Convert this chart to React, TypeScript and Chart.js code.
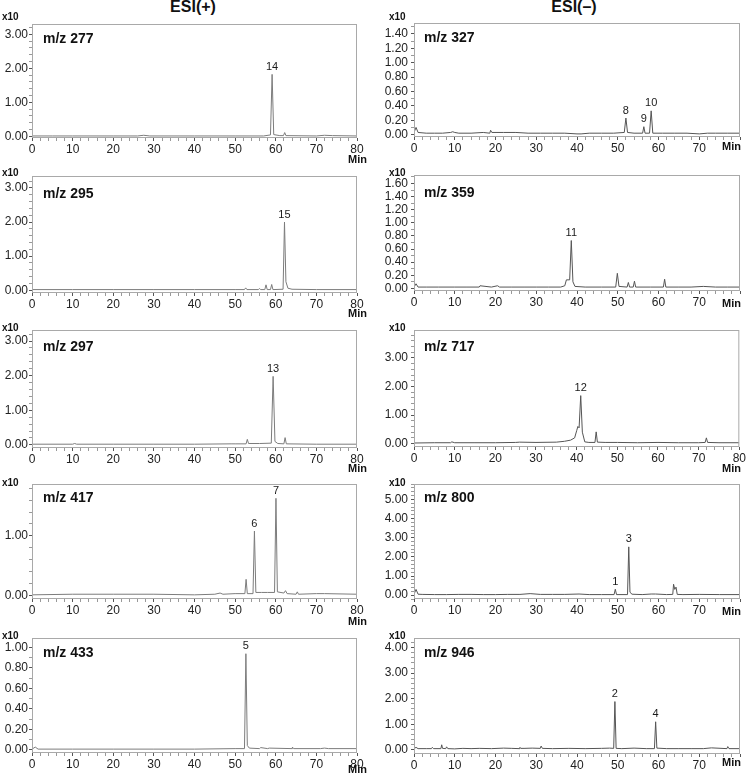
import React, { useEffect, useRef } from "react";
import { Chart, registerables } from "chart.js";
Chart.register(...registerables);

const FONT = "'Liberation Sans', Arial, Helvetica, sans-serif";

// ---------- DATA (retention time in min, intensity in x10 units) ----------
// ESI(+)
const mz277Time = [0, 5, 10, 20, 26, 27.5, 29, 40, 50, 57, 58.7, 59.1, 59.5, 61, 61.9, 62.2, 62.5, 70, 72, 74, 80];
const mz277Int = [0.01, 0.01, 0.01, 0.01, 0.01, 0.03, 0.01, 0.01, 0.01, 0.01, 0.04, 1.82, 0.05, 0.02, 0.02, 0.11, 0.02, 0.01, 0.03, 0.02, 0.01];
const mz277PeakIds = ["14"];
const mz277PeakTimes = [59.1];

const mz295Time = [0, 10, 20, 30, 40, 50, 52.3, 52.6, 52.9, 55.7, 56, 56.3, 57.3, 57.6, 57.9, 58.7, 59, 59.3, 61.8, 62.15, 62.5, 63, 64, 70, 80];
const mz295Int = [0.02, 0.02, 0.02, 0.02, 0.02, 0.02, 0.02, 0.07, 0.02, 0.02, 0.05, 0.02, 0.02, 0.16, 0.02, 0.02, 0.17, 0.02, 0.03, 2.0, 0.25, 0.06, 0.03, 0.02, 0.02];
const mz295PeakIds = ["15"];
const mz295PeakTimes = [62.15];

const mz297Time = [0, 10, 10.5, 11, 20, 30, 40, 49, 50, 52.7, 53, 53.3, 56, 58.9, 59.35, 59.8, 60.5, 62, 62.3, 62.6, 70, 80];
const mz297Int = [0.02, 0.02, 0.04, 0.02, 0.02, 0.02, 0.02, 0.03, 0.03, 0.03, 0.16, 0.04, 0.04, 0.05, 1.98, 0.1, 0.04, 0.03, 0.21, 0.03, 0.02, 0.02];
const mz297PeakIds = ["13"];
const mz297PeakTimes = [59.35];

const mz417Time = [0, 10, 20, 30, 40, 45, 46.3, 47, 50, 52.4, 52.7, 53, 54.4, 54.75, 55.1, 56.5, 58, 59.7, 60.05, 60.4, 62, 62.4, 62.8, 65, 65.3, 65.6, 70, 72, 80];
const mz417Int = [0.01, 0.02, 0.02, 0.02, 0.01, 0.02, 0.04, 0.02, 0.03, 0.03, 0.27, 0.03, 0.03, 1.08, 0.05, 0.05, 0.05, 0.05, 1.63, 0.06, 0.04, 0.08, 0.03, 0.02, 0.06, 0.02, 0.03, 0.03, 0.02];
const mz417PeakIds = ["6", "7"];
const mz417PeakTimes = [54.75, 60.05];

const mz433Time = [0, 0.8, 1.5, 10, 20, 30, 40, 50, 52.3, 52.65, 53.0, 53.5, 56, 56.3, 58, 58.4, 64, 64.1, 64.4, 71, 72, 73, 80];
const mz433Int = [0.005, 0.025, 0.005, 0.005, 0.005, 0.005, 0.005, 0.01, 0.01, 0.94, 0.04, 0.015, 0.01, 0.02, 0.01, 0.015, 0.01, 0.025, 0.01, 0.01, 0.015, 0.01, 0.01];
const mz433PeakIds = ["5"];
const mz433PeakTimes = [52.65];

// ESI(-)
const mz327Time = [0, 0.5, 1, 3, 5, 7, 9, 9.5, 10, 11, 14, 17, 18.6, 18.8, 19.1, 22, 25, 28, 31, 34, 37, 40, 41, 43, 46, 49, 51.6, 52, 52.4, 54, 56.1, 56.4, 56.7, 57.8, 58.2, 58.6, 61, 64, 67, 70, 72, 74, 77, 80];
const mz327Int = [0.03, 0.1, 0.03, 0.02, 0.02, 0.02, 0.03, 0.04, 0.03, 0.02, 0.02, 0.03, 0.02, 0.06, 0.03, 0.03, 0.03, 0.02, 0.02, 0.02, 0.02, 0.01, 0.01, 0.02, 0.02, 0.02, 0.03, 0.23, 0.03, 0.02, 0.02, 0.11, 0.02, 0.02, 0.33, 0.02, 0.02, 0.02, 0.02, 0.01, 0.02, 0.02, 0.02, 0.02];
const mz327PeakIds = ["8", "9", "10"];
const mz327PeakTimes = [52, 56.4, 58.2];

const mz359Time = [0, 0.5, 1, 3, 6, 10, 13, 16, 16.2, 19, 20.5, 21, 24, 27, 30, 33, 36, 37, 37.4, 38.2, 38.6, 39.0, 39.5, 42, 46, 49.5, 49.9, 50.3, 52.3, 52.6, 52.9, 53.8, 54.1, 54.4, 58, 61.2, 61.5, 61.8, 65, 68, 71, 74, 77, 80];
const mz359Int = [0.02, 0.07, 0.02, 0.02, 0.02, 0.02, 0.02, 0.02, 0.04, 0.02, 0.04, 0.02, 0.02, 0.02, 0.02, 0.02, 0.02, 0.04, 0.13, 0.13, 0.73, 0.1, 0.03, 0.02, 0.02, 0.02, 0.23, 0.03, 0.02, 0.09, 0.02, 0.02, 0.11, 0.02, 0.02, 0.02, 0.14, 0.02, 0.02, 0.02, 0.03, 0.02, 0.02, 0.02];
const mz359PeakIds = ["11"];
const mz359PeakTimes = [38.6];

const mz717Time = [0, 5, 9, 9.3, 10, 15, 20, 25, 26, 30, 35, 37, 38.5, 39.5, 40, 40.3, 40.6, 41.0, 41.4, 42.0, 43, 44.5, 44.8, 45.1, 47, 50, 55, 60, 65, 70, 71.6, 71.9, 72.2, 75, 80];
const mz717Int = [0.02, 0.03, 0.03, 0.06, 0.03, 0.03, 0.03, 0.04, 0.05, 0.04, 0.05, 0.08, 0.12, 0.2, 0.45, 0.6, 0.55, 1.68, 0.4, 0.06, 0.04, 0.04, 0.41, 0.05, 0.04, 0.04, 0.03, 0.04, 0.03, 0.03, 0.04, 0.2, 0.04, 0.03, 0.03];
const mz717PeakIds = ["12"];
const mz717PeakTimes = [41.0];

const mz800Time = [0, 0.5, 1, 2, 5, 8, 11, 14, 17, 20, 23, 26, 28.5, 31, 34, 37, 40.5, 43, 46, 49.1, 49.4, 49.7, 52.4, 52.7, 53.0, 53.5, 56, 58.2, 59.3, 62, 63.5, 63.7, 64.0, 64.3, 64.6, 66, 70, 75, 80];
const mz800Int = [0.05, 0.3, 0.05, 0.04, 0.03, 0.03, 0.04, 0.04, 0.03, 0.03, 0.04, 0.04, 0.08, 0.04, 0.04, 0.04, 0.06, 0.03, 0.03, 0.03, 0.31, 0.03, 0.03, 2.52, 0.15, 0.05, 0.03, 0.06, 0.06, 0.03, 0.04, 0.57, 0.3, 0.42, 0.04, 0.03, 0.04, 0.03, 0.03];
const mz800PeakIds = ["1", "3"];
const mz800PeakTimes = [49.4, 52.7];

const mz946Time = [0, 0.5, 1, 3, 4.3, 4.5, 4.8, 6.6, 6.8, 7, 7.8, 8, 8.3, 10, 12, 14, 16, 19, 22, 24, 25.8, 26, 26.2, 27, 29, 31.0, 31.2, 31.5, 34, 38, 42, 46, 48, 49.0, 49.3, 49.6, 51, 54, 57, 59.0, 59.3, 59.6, 62, 65, 68, 71, 73, 76.8, 77, 77.3, 80];
const mz946Int = [0.05, 0.1, 0.05, 0.05, 0.05, 0.1, 0.05, 0.05, 0.2, 0.06, 0.05, 0.12, 0.05, 0.04, 0.06, 0.05, 0.06, 0.05, 0.07, 0.06, 0.05, 0.1, 0.06, 0.06, 0.07, 0.06, 0.15, 0.06, 0.05, 0.06, 0.05, 0.06, 0.07, 0.06, 1.89, 0.06, 0.05, 0.07, 0.05, 0.05, 1.1, 0.07, 0.05, 0.05, 0.05, 0.05, 0.08, 0.05, 0.13, 0.05, 0.05];
const mz946PeakIds = ["2", "4"];
const mz946PeakTimes = [49.3, 59.3];

const xTickLabels = [0, 10, 20, 30, 40, 50, 60, 70, 80];

// ---------- LAYOUT ----------
type PanelDef = {
  name: string;
  t: number[];
  v: number[];
  peakIds: string[];
  peakTimes: number[];
  yMin: number;
  yMax: number;
  yStep: number;
  yLabelStep: number;
  col: 0 | 1;
  frameTop: number;
  frameBottom: number;
  mzY: number;
  x10Y: number;
  minY: number;
  show80: boolean;
};

const PANELS: PanelDef[] = [
  { name: "m/z 277", t: mz277Time, v: mz277Int, peakIds: mz277PeakIds, peakTimes: mz277PeakTimes, yMin: -0.05, yMax: 3.3, yStep: 0.2, yLabelStep: 1, col: 0, frameTop: 24, frameBottom: 138, mzY: 37.7, x10Y: 17, minY: 159, show80: true },
  { name: "m/z 295", t: mz295Time, v: mz295Int, peakIds: mz295PeakIds, peakTimes: mz295PeakTimes, yMin: -0.08, yMax: 3.35, yStep: 0.2, yLabelStep: 1, col: 0, frameTop: 176, frameBottom: 293, mzY: 192.7, x10Y: 173.3, minY: 313, show80: true },
  { name: "m/z 297", t: mz297Time, v: mz297Int, peakIds: mz297PeakIds, peakTimes: mz297PeakTimes, yMin: -0.09, yMax: 3.32, yStep: 0.2, yLabelStep: 1, col: 0, frameTop: 330, frameBottom: 448, mzY: 345.7, x10Y: 328.3, minY: 468, show80: true },
  { name: "m/z 417", t: mz417Time, v: mz417Int, peakIds: mz417PeakIds, peakTimes: mz417PeakTimes, yMin: -0.06, yMax: 1.87, yStep: 0.2, yLabelStep: 1, col: 0, frameTop: 484, frameBottom: 599, mzY: 497.3, x10Y: 483.3, minY: 621, show80: true },
  { name: "m/z 433", t: mz433Time, v: mz433Int, peakIds: mz433PeakIds, peakTimes: mz433PeakTimes, yMin: -0.033, yMax: 1.094, yStep: 0.1, yLabelStep: 0.2, col: 0, frameTop: 638, frameBottom: 753, mzY: 651.7, x10Y: 635.7, minY: 769, show80: true },
  { name: "m/z 327", t: mz327Time, v: mz327Int, peakIds: mz327PeakIds, peakTimes: mz327PeakTimes, yMin: -0.033, yMax: 1.55, yStep: 0.1, yLabelStep: 0.2, col: 1, frameTop: 23, frameBottom: 137, mzY: 37.3, x10Y: 17, minY: 146.7, show80: false },
  { name: "m/z 359", t: mz359Time, v: mz359Int, peakIds: mz359PeakIds, peakTimes: mz359PeakTimes, yMin: -0.04, yMax: 1.73, yStep: 0.1, yLabelStep: 0.2, col: 1, frameTop: 175, frameBottom: 291, mzY: 192.3, x10Y: 173.3, minY: 303.3, show80: false },
  { name: "m/z 717", t: mz717Time, v: mz717Int, peakIds: mz717PeakIds, peakTimes: mz717PeakTimes, yMin: -0.12, yMax: 3.98, yStep: 0.2, yLabelStep: 1, col: 1, frameTop: 330, frameBottom: 447, mzY: 345.7, x10Y: 328.3, minY: 468, show80: true },
  { name: "m/z 800", t: mz800Time, v: mz800Int, peakIds: mz800PeakIds, peakTimes: mz800PeakTimes, yMin: -0.2, yMax: 5.8, yStep: 0.2, yLabelStep: 1, col: 1, frameTop: 484, frameBottom: 599, mzY: 497.3, x10Y: 483.3, minY: 611, show80: false },
  { name: "m/z 946", t: mz946Time, v: mz946Int, peakIds: mz946PeakIds, peakTimes: mz946PeakTimes, yMin: -0.16, yMax: 4.375, yStep: 0.2, yLabelStep: 1, col: 1, frameTop: 638, frameBottom: 754, mzY: 651.7, x10Y: 635.7, minY: 762.7, show80: false },
];

const COLS = [
  { canvasLeft: 0, yW: 32, plotRight: 357, padRight: 8, mzX: 43, x10X: 2, minRight: 367, tickPad: 1, color: "#7c7c7c" },
  { canvasLeft: 378, yW: 36, plotRight: 740, padRight: 7, mzX: 424, x10X: 389, minRight: 741, tickPad: 3, color: "#555555" },
];

const PAD_TOP = 12;
const X_H = 16;
const PAD_BOTTOM = 2;

function isMultiple(v: number, step: number) {
  const r = v / step;
  return Math.abs(r - Math.round(r)) < 1e-6;
}

function ChromPanel({ p }: { p: PanelDef }) {
  const ref = useRef<HTMLCanvasElement>(null);
  const c = COLS[p.col];
  const width = c.plotRight + c.padRight - c.canvasLeft;
  const height = PAD_TOP + (p.frameBottom - p.frameTop) + X_H + PAD_BOTTOM;

  useEffect(() => {
    const canvas = ref.current;
    if (!canvas) return;
    const framePlugin = {
      id: "frameAndPeaks",
      afterDatasetsDraw(chart: any) {
        const { ctx, chartArea: a, scales } = chart;
        ctx.save();
        ctx.strokeStyle = "#a9a9a9";
        ctx.lineWidth = 1;
        ctx.strokeRect(a.left + 0.5, a.top + 0.5, a.right - a.left - 1, a.bottom - a.top - 1);
        ctx.fillStyle = "#1a1a1a";
        ctx.font = `11px ${FONT}`;
        ctx.textAlign = "center";
        ctx.textBaseline = "bottom";
        p.peakIds.forEach((id, i) => {
          const t = p.peakTimes[i];
          const idx = p.t.indexOf(t);
          const h = idx >= 0 ? p.v[idx] : 0;
          ctx.fillText(id, scales.x.getPixelForValue(t), scales.y.getPixelForValue(h) - 2);
        });
        ctx.restore();
      },
    };
    const chart = new Chart(canvas, {
      type: "line",
      data: {
        datasets: [
          {
            data: p.t.map((t, i) => ({ x: t, y: p.v[i] })),
            borderColor: c.color,
            borderWidth: 1,
            pointRadius: 0,
            tension: 0,
            fill: false,
          },
        ],
      },
      options: {
        animation: false,
        responsive: false,
        maintainAspectRatio: false,
        layout: { padding: { top: PAD_TOP, right: c.padRight, bottom: PAD_BOTTOM, left: 0 } },
        plugins: { legend: { display: false }, tooltip: { enabled: false } },
        scales: {
          x: {
            type: "linear",
            min: 0,
            max: 80,
            afterFit: (s: any) => {
              s.height = X_H;
            },
            border: { display: false },
            grid: {
              drawOnChartArea: false,
              tickLength: 3,
              tickColor: (ctx: any) => (ctx.tick && xTickLabels.includes(ctx.tick.value) ? "#555" : "#999"),
            },
            ticks: {
              stepSize: 2,
              autoSkip: false,
              includeBounds: false,
              maxRotation: 0,
              padding: 1,
              color: "#222",
              font: { family: FONT, size: 12 },
              callback: (v: any) => {
                const n = Number(v);
                if (!xTickLabels.includes(n)) return "";
                if (n === 80 && !p.show80) return "";
                return String(n);
              },
            },
          },
          y: {
            type: "linear",
            min: p.yMin,
            max: p.yMax,
            afterFit: (s: any) => {
              s.width = c.yW;
            },
            border: { display: false },
            grid: {
              drawOnChartArea: false,
              tickLength: 3,
              tickColor: (ctx: any) => (ctx.tick && isMultiple(ctx.tick.value, p.yLabelStep) ? "#555" : "#999"),
            },
            ticks: {
              stepSize: p.yStep,
              autoSkip: false,
              includeBounds: false,
              padding: c.tickPad,
              color: "#222",
              font: { family: FONT, size: 12 },
              callback: (v: any) => (isMultiple(Number(v), p.yLabelStep) ? Number(v).toFixed(2) : ""),
            },
          },
        },
      },
      plugins: [framePlugin],
    } as any);
    return () => chart.destroy();
  }, []);

  return (
    <canvas
      ref={ref}
      width={width}
      height={height}
      style={{ position: "absolute", left: c.canvasLeft, top: p.frameTop - PAD_TOP, width, height }}
    />
  );
}

function Txt({ x, y, text, size, bold, align }: { x: number; y: number; text: string; size: number; bold?: boolean; align?: "left" | "center" | "right" }) {
  const tx = align === "center" ? "translateX(-50%)" : align === "right" ? "translateX(-100%)" : "none";
  return (
    <div
      style={{
        position: "absolute",
        left: x,
        top: y - size * 0.5,
        fontFamily: FONT,
        fontSize: size,
        lineHeight: `${size}px`,
        fontWeight: bold ? 700 : 400,
        color: "#111",
        whiteSpace: "nowrap",
        transform: tx,
      }}
    >
      {text}
    </div>
  );
}

export default function App() {
  return (
    <div style={{ position: "absolute", left: 0, top: 0, width: 747, height: 777, overflow: "hidden", background: "#fff" }}>
      <Txt x={193} y={7} text="ESI(+)" size={16} bold align="center" />
      <Txt x={574} y={7} text="ESI(–)" size={16} bold align="center" />
      {PANELS.map((p, i) => {
        const c = COLS[p.col];
        return (
          <React.Fragment key={i}>
            <ChromPanel p={p} />
            <Txt x={c.x10X} y={p.x10Y} text="x10" size={10} bold />
            <Txt x={c.mzX} y={p.mzY} text={p.name} size={14} bold />
            <Txt x={c.minRight} y={p.minY} text="Min" size={11} bold align="right" />
          </React.Fragment>
        );
      })}
    </div>
  );
}
